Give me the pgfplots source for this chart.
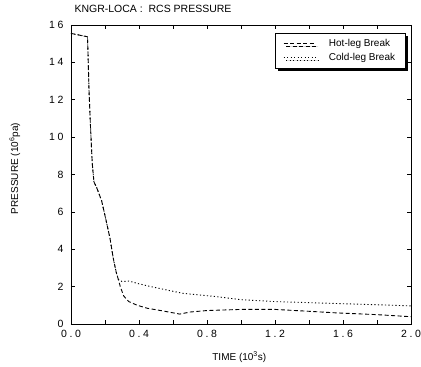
\documentclass[border=0pt]{standalone}
\usepackage{pgfplots}
\pgfplotsset{compat=1.18}
\usepackage{fontspec}
\setmainfont{Liberation Sans}
\usetikzlibrary{shadows}
\begin{document}
\begin{tikzpicture}
\useasboundingbox (-71pt,-43pt) rectangle (350pt,324pt);
\begin{axis}[
  at={(0pt,0pt)}, anchor=south west,
  scale only axis, width=340pt, height=299pt,
  xmin=0, xmax=2, ymin=0, ymax=16,
  xtick={0,0.4,...,2.01}, minor xtick={0.2,0.6,...,1.81},
  ytick={0,2,...,16},
  xticklabels={0.0,0.4,0.8,1.2,1.6,2.0},
  tick align=inside, tick pos=both,
  major tick length=4pt, minor tick length=4pt,
  every tick/.style={black, line width=0.7pt},
  axis line style={line width=0.9pt},
  /pgf/number format/assume math mode=true,
  ticklabel style={font=\fontsize{10.5}{12}\selectfont\addfontfeature{LetterSpace=25}},
  xticklabel style={yshift=-3pt},
  yticklabel style={xshift=-4pt},
  title={KNGR-LOCA :\ \ RCS PRESSURE},
  title style={at={(0,1)}, anchor=base west, yshift=6pt, font=\fontsize{10.5}{12}\selectfont},
  xlabel={TIME (10\textsuperscript{3}s)},
  xlabel style={at={(axis description cs:0.495,0)}, anchor=center, yshift=-33pt, font=\fontsize{10}{12}\selectfont},
  ylabel={PRESSURE (10\textsuperscript{6}pa)},
  ylabel style={at={(axis description cs:-0.165,0.52)}, anchor=center, font=\fontsize{10}{12}\selectfont},
  legend style={at={(rel axis cs:0.984,0.973)}, anchor=north east,
    draw=black, line width=0.9pt, fill=white,
    drop shadow={shadow xshift=2.5pt, shadow yshift=-2.5pt, fill=black, opacity=1},
    font=\fontsize{10}{12}\selectfont, row sep=1pt, inner xsep=8pt, inner ysep=4pt},
  legend cell align=left,
  legend image code/.code={\draw[#1, line width=0.9pt] (0pt,0pt) -- (32pt,0pt);},
]
\addplot[black, line width=0.9pt, dash pattern=on 4pt off 2.5pt] coordinates {
(0,15.55) (0.097,15.37) (0.1,14.5) (0.106,12.5) (0.115,10.5) (0.125,8.6) (0.135,7.6)
(0.151,7.3) (0.18,6.6) (0.205,5.6) (0.229,4.6) (0.249,3.5) (0.265,2.8) (0.278,2.4)
(0.29,2.0) (0.31,1.5) (0.34,1.2) (0.39,1.0) (0.45,0.84) (0.54,0.7) (0.64,0.53)
(0.7,0.64) (0.8,0.72) (1.0,0.78) (1.2,0.78) (1.4,0.68) (1.55,0.6) (1.8,0.5) (2.0,0.39)
};
\addlegendentry{\hspace*{11pt}Hot-leg Break}
\addplot[black, line width=0.9pt, dash pattern=on 1.2pt off 2.3pt] coordinates {
(0,15.55) (0.097,15.37) (0.1,14.5) (0.106,12.5) (0.115,10.5) (0.125,8.6) (0.135,7.6)
(0.151,7.3) (0.18,6.6) (0.205,5.6) (0.229,4.6) (0.249,3.5) (0.265,2.8) (0.278,2.4)
(0.3,2.27) (0.34,2.3) (0.4,2.15) (0.47,2.0) (0.6,1.75) (0.66,1.64) (0.86,1.46)
(1.0,1.3) (1.2,1.2) (1.55,1.1) (1.8,1.03) (2.0,0.97)
};
\addlegendentry{\hspace*{11pt}Cold-leg Break}
\end{axis}
\end{tikzpicture}
\end{document}
